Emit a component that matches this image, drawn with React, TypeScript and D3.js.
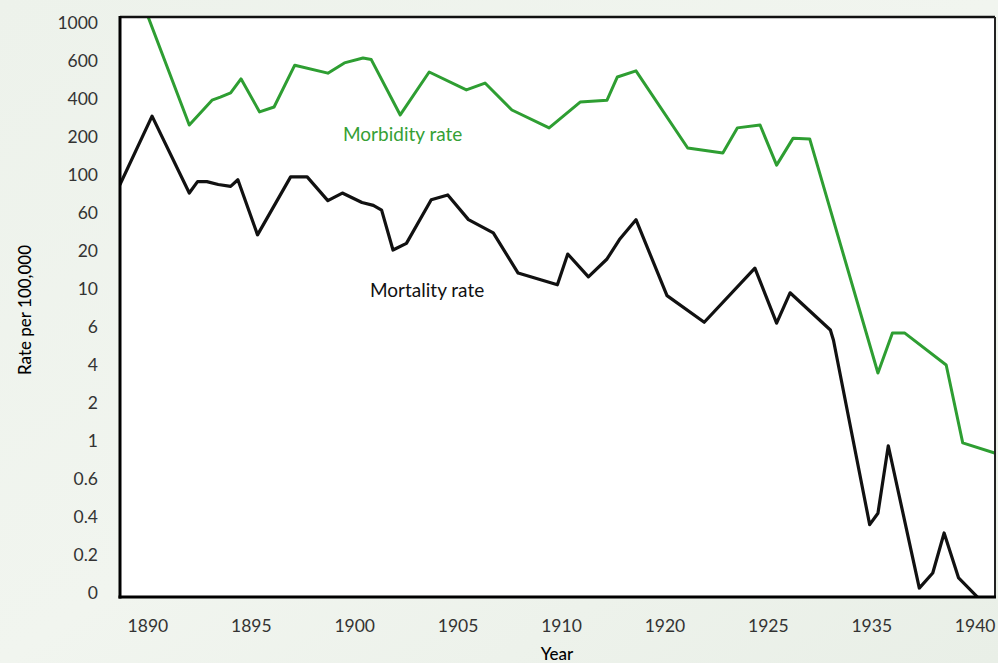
import React from "react";
import * as d3 from "d3";

// Y axis: the original uses evenly spaced, non-uniform tick values
const yTickValues = [0, 0.2, 0.4, 0.6, 1, 2, 4, 6, 10, 20, 60, 100, 200, 400, 600, 1000];
const yTickLabels = ["0", "0.2", "0.4", "0.6", "1", "2", "4", "6", "10", "20", "60", "100", "200", "400", "600", "1000"];

// X axis: evenly spaced tick positions, labelled as printed in the original
const xTickValues = [1890, 1895, 1900, 1905, 1910, 1915, 1920, 1925, 1930];
const xTickLabels = ["1890", "1895", "1900", "1905", "1910", "1920", "1925", "1935", "1940"];

// Morbidity rate (per 100,000), positions along the x axis
const morbidityYears = [1890, 1892, 1893.1, 1893.5, 1894, 1894.5, 1895.4, 1896.1, 1897.1, 1898.7, 1899.5, 1900.4, 1900.8, 1902.2, 1903.6, 1905.4, 1906.3, 1907.6, 1909.4, 1910.9, 1912.2, 1912.7, 1913.6, 1916.1, 1917.8, 1918.5, 1919.6, 1920.4, 1921.2, 1922, 1925.3, 1926, 1926.6, 1928.6, 1929.4, 1931];
const morbidityValues = [1070, 263, 394, 410, 432, 506, 332, 358, 578, 536, 590, 632, 615, 316, 542, 448, 484, 342, 248, 384, 394, 516, 548, 171, 158, 248, 263, 126, 197, 195, 3.58, 5.68, 5.68, 4.0, 0.98, 0.87];

// Mortality rate (per 100,000)
const mortalityYears = [1888.65, 1890.2, 1892, 1892.4, 1892.85, 1893.4, 1894, 1894.35, 1895.3, 1896.9, 1897.7, 1898.7, 1899.4, 1900.35, 1900.9, 1901.3, 1901.85, 1902.5, 1903.7, 1904.5, 1905.5, 1906.7, 1907.9, 1909.8, 1910.3, 1911.3, 1912.2, 1912.8, 1913.6, 1915.1, 1916.9, 1919.35, 1920.4, 1921.05, 1923, 1923.15, 1924.9, 1925.3, 1925.8, 1927.3, 1927.95, 1928.5, 1929.2, 1930.1];
const mortalityValues = [90, 310, 81, 93, 93, 90, 88, 95, 37, 98, 98, 73, 81, 71, 68, 63, 21, 28, 74, 79, 53, 39, 14.2, 11.1, 19.2, 13.2, 17.9, 32, 53, 9.3, 6.5, 15.5, 6.4, 9.6, 5.84, 5.3, 0.36, 0.42, 0.95, 0.026, 0.105, 0.316, 0.079, -0.02];

const W = 998;
const H = 663;
const plotLeft = 120;
const plotRight = 995;
const plotTop = 17;
const plotBottom = 597;
const yBottomTick = 593;
const yStep = 38;

const FONT = "Lato, 'Open Sans', sans-serif";

export default function App() {
  const x = d3.scaleLinear().domain([1888.65, 1930.96]).range([plotLeft, plotRight]);
  const y = d3
    .scaleLinear()
    .domain(yTickValues)
    .range(yTickValues.map((_, i) => yBottomTick - i * yStep));

  const line = d3
    .line<[number, number]>()
    .x((d) => x(d[0]))
    .y((d) => y(d[1]));

  const morb: [number, number][] = morbidityYears.map((yr, i) => [yr, morbidityValues[i]]);
  const mort: [number, number][] = mortalityYears.map((yr, i) => [yr, mortalityValues[i]]);

  return (
    <svg
      width={W}
      height={H}
      style={{ position: "absolute", left: 0, top: 0, display: "block" }}
    >
      <defs>
        <linearGradient id="bg" x1="0" y1="0" x2="1" y2="1">
          <stop offset="0" stopColor="#edf2eb" />
          <stop offset="0.5" stopColor="#f1f5ef" />
          <stop offset="1" stopColor="#e9efe7" />
        </linearGradient>
        <clipPath id="plotClip">
          <rect x={plotLeft} y={plotTop} width={plotRight - plotLeft} height={plotBottom - plotTop} />
        </clipPath>
      </defs>
      <rect x={0} y={0} width={W} height={H} fill="url(#bg)" />
      <rect x={plotLeft} y={plotTop} width={plotRight - plotLeft} height={plotBottom - plotTop} fill="#ffffff" />

      <g clipPath="url(#plotClip)">
        <path d={line(morb) || ""} fill="none" stroke="#2e9e32" strokeWidth={3} strokeLinejoin="round" strokeLinecap="round" />
        <path d={line(mort) || ""} fill="none" stroke="#111111" strokeWidth={3.2} strokeLinejoin="round" strokeLinecap="round" />
      </g>

      {/* frame */}
      <line x1={plotLeft} y1={plotTop} x2={plotRight} y2={plotTop} stroke="#111" strokeWidth={2.5} />
      <line x1={plotRight} y1={plotTop} x2={plotRight} y2={plotBottom} stroke="#222" strokeWidth={2} />
      <line x1={plotLeft} y1={plotTop - 1} x2={plotLeft} y2={plotBottom + 1.5} stroke="#000" strokeWidth={3} />
      <line x1={plotLeft - 1.5} y1={plotBottom} x2={plotRight + 1} y2={plotBottom} stroke="#000" strokeWidth={3} />

      {/* y tick labels */}
      {yTickValues.map((v, i) => (
        <text
          key={"y" + i}
          x={98}
          y={y(v)}
          dy="0.36em"
          textAnchor="end"
          fontFamily={FONT}
          fontSize={17.5}
          fill="#333"
        >
          {yTickLabels[i]}
        </text>
      ))}

      {/* x tick labels */}
      {xTickValues.map((v, i) => (
        <text
          key={"x" + i}
          x={x(v)}
          y={632}
          textAnchor="middle"
          fontFamily={FONT}
          fontSize={17.5}
          fill="#333"
        >
          {xTickLabels[i]}
        </text>
      ))}

      {/* axis titles */}
      <text x={557} y={660} textAnchor="middle" fontFamily={FONT} fontSize={17} fontWeight={500} fill="#000">
        Year
      </text>
      <text
        transform="translate(31,310) rotate(-90)"
        textAnchor="middle"
        fontFamily={FONT}
        fontSize={17}
        fontWeight={500}
        fill="#000"
      >
        Rate per 100,000
      </text>

      {/* series labels */}
      <text x={343} y={141} fontFamily={FONT} fontSize={19} fill="#35a035">
        Morbidity rate
      </text>
      <text x={370} y={297} fontFamily={FONT} fontSize={19} fill="#111">
        Mortality rate
      </text>
    </svg>
  );
}
